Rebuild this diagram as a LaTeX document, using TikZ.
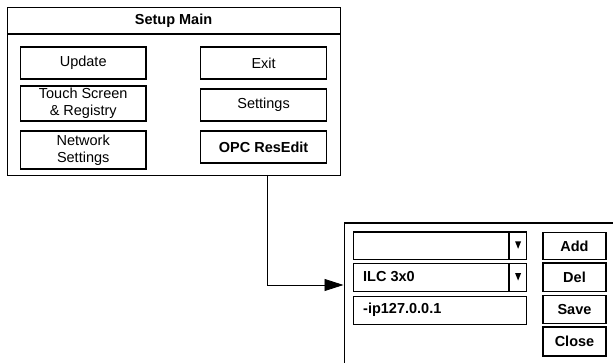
\documentclass[tikz,border=0pt]{standalone}
\usepackage{fontspec}
\setmainfont{Liberation Sans}
\usetikzlibrary{calc,shapes,arrows.meta}

\tikzset{
  panel/.style={draw, line width=1.3pt, inner sep=0pt, anchor=north west},
  btn/.style={draw, line width=1.2pt, inner sep=0pt, align=center,
    font=\fontsize{14.5}{17}\selectfont},
  bbtn/.style={btn, font=\fontsize{14.5}{17}\selectfont\bfseries},
  lbl/.style={inner sep=0pt, anchor=west, font=\fontsize{14.5}{17}\selectfont\bfseries},
  conn/.style={line width=0.7pt, -{Triangle[length=19pt,width=12pt]}}
}

\begin{document}
\begin{tikzpicture}[x=1pt,y=-1pt]
    \useasboundingbox (0,0) rectangle (613,363);
    \clip (0,0) rectangle (613,363);
    % setup main window
    \node[panel, minimum width=333pt, minimum height=168pt] (main) at (7,7) {};
    \draw[line width=1.3pt] (main.west |- 0,34) -- (main.east |- 0,34);
    \node[bbtn, draw=none] (title) at (173.5,20.5) {Setup Main};
    \node[btn, minimum width=125.5pt, minimum height=32pt] (upd) at (83.2,63) {Update};
    \node[btn, minimum width=125.5pt, minimum height=35pt] (touch) at (83.2,103.5) {Touch Screen\\\& Registry};
    \node[btn, minimum width=125.5pt, minimum height=38pt] (net) at (83.2,150) {Network\\Settings};
    \node[btn, minimum width=126pt, minimum height=32pt] (exit) at (263.6,63) {Exit};
    \node[btn, minimum width=126pt, minimum height=32pt] (sett) at (263.6,105) {Settings};
    \node[bbtn, minimum width=126pt, minimum height=32pt] (opc) at (263.6,147) {OPC ResEdit};
    % resedit dialog
    \node[panel, line width=1.6pt, minimum width=320pt, minimum height=200pt] (dlg) at (343.5,222) {};
    \node[btn, minimum width=173pt, minimum height=27.5pt, anchor=north west] (cb1) at (352.5,231.5) {};
    \node[btn, minimum width=173pt, minimum height=28pt, anchor=north west] (cb2) at (352.5,263) {};
    \node[btn, minimum width=173pt, minimum height=28pt, anchor=north west] (ip) at (352.5,296) {};
    \foreach \cb in {cb1,cb2}{
        \draw[line width=1.8pt] ($(\cb.north west)!0.897!(\cb.north east)$) -- ($(\cb.south west)!0.897!(\cb.south east)$);
        \fill ($(\cb.center)+(162.5-87,-4.5)$) -- ++(6,0) -- ++(-3,7.5) -- cycle;
    }
    \node[lbl] (ilc) at (363,277) {ILC 3x0};
    \node[lbl] (addr) at (363,310) {-ip127.0.0.1};
    \node[bbtn, minimum width=63pt, minimum height=27.5pt] (add) at (574.5,246) {Add};
    \node[bbtn, minimum width=63pt, minimum height=28.5pt] (del) at (574.5,277.2) {Del};
    \node[bbtn, minimum width=63pt, minimum height=28pt] (save) at (574.5,309.5) {Save};
    \node[bbtn, minimum width=63pt, minimum height=29pt] (close) at (574.5,341.5) {Close};
    % connector
    \coordinate (tap) at (267.7,175);
    \coordinate (hook) at (dlg.west |- 0,285);
    \draw[conn] (tap) |- (hook);
\end{tikzpicture}
\end{document}
